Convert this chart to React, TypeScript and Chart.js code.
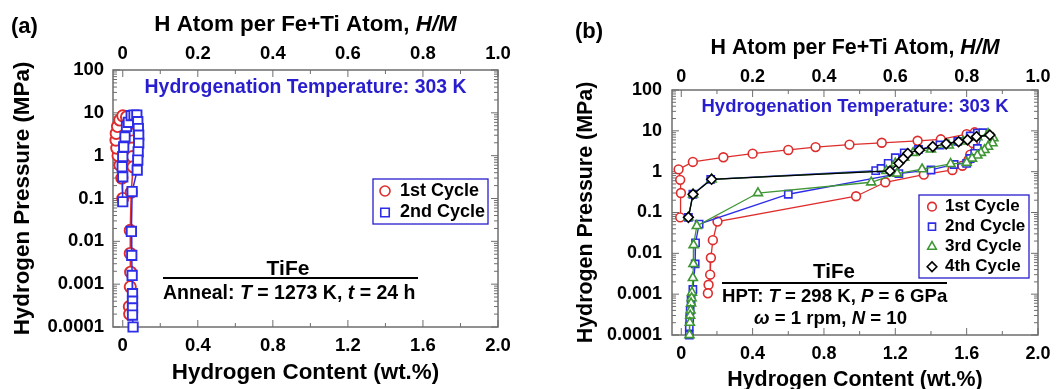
import React, { useEffect, useRef } from "react";
import { Chart, registerables } from "chart.js";
Chart.register(...registerables);

const FAMILY = '"Liberation Sans", Arial, Helvetica, sans-serif';

// ---- shared axis values ----
const pressureTicks = [0.0001, 0.001, 0.01, 0.1, 1, 10, 100];
const wtTicks = [0, 0.4, 0.8, 1.2, 1.6, 2.0];
const hmTicks = [0, 0.2, 0.4, 0.6, 0.8, 1.0];
const seriesNames = ["1st Cycle", "2nd Cycle", "3rd Cycle", "4th Cycle"];

// ---- panel (a): annealed TiFe ----
const a1Wt = [0.0, -0.005, -0.015, -0.025, -0.032, -0.036, -0.035, -0.028, -0.016, 0.0, 0.02, 0.04, 0.05, 0.052, 0.05, 0.052, 0.055, 0.045, 0.04, 0.04, 0.042, 0.04, 0.035, 0.037];
const a1P = [0.1, 0.3, 0.6, 1.0, 1.5, 2.3, 3.3, 4.8, 6.8, 8.5, 8.0, 5.0, 3.2, 2.2, 1.5, 0.95, 0.55, 0.14, 0.018, 0.0052, 0.0019, 0.00087, 0.0003, 0.0002];
const a2Wt = [0.0, 0.0, -0.003, 0.0, 0.005, 0.012, 0.02, 0.03, 0.045, 0.06, 0.075, 0.08, 0.083, 0.085, 0.085, 0.082, 0.08, 0.077, 0.05, 0.046, 0.048, 0.05, 0.052, 0.052, 0.052, 0.052, 0.055];
const a2P = [0.084, 0.32, 0.55, 0.95, 1.6, 2.75, 4.8, 6.0, 8.6, 8.9, 8.9, 6.2, 4.3, 3.0, 1.95, 1.23, 0.79, 0.46, 0.145, 0.017, 0.0047, 0.0016, 0.0006, 0.0004, 0.00028, 0.00019, 0.0001];

// ---- panel (b): HPT-processed TiFe ----
const b1Wt = [-0.006, -0.002, -0.006, -0.015, 0.065, 0.236, 0.4, 0.6, 0.753, 0.943, 1.124, 1.325, 1.455, 1.6, 1.645, 1.635, 1.62, 1.61, 1.576, 1.52, 1.36, 1.144, 0.98, 0.203, 0.177, 0.166, 0.162, 0.153, 0.149];
const b1P = [0.076, 0.3, 0.63, 1.14, 1.73, 2.25, 2.76, 3.4, 4.0, 4.6, 5.1, 5.7, 6.2, 8.3, 9.2, 5.0, 2.6, 1.93, 1.4, 1.1, 0.85, 0.55, 0.25, 0.06, 0.021, 0.0078, 0.003, 0.0017, 0.00105];
const b2Wt = [0.04, 0.065, 0.165, 1.09, 1.12, 1.16, 1.2, 1.25, 1.33, 1.45, 1.55, 1.62, 1.66, 1.69, 1.66, 1.645, 1.62, 1.6, 1.53, 1.4, 1.22, 0.6, 0.1, 0.08, 0.078, 0.065, 0.055, 0.05, 0.047, 0.045, 0.045];
const b2P = [0.076, 0.28, 0.65, 1.06, 1.2, 1.6, 2.2, 2.9, 3.5, 4.5, 5.5, 7.5, 8.8, 9.0, 3.7, 2.8, 2.1, 1.6, 1.5, 1.1, 0.9, 0.28, 0.052, 0.018, 0.0055, 0.0013, 0.0007, 0.0004, 0.00025, 0.00016, 0.0001];
const b3Wt = [0.04, 0.066, 0.17, 1.15, 1.2, 1.25, 1.3, 1.4, 1.5, 1.58, 1.66, 1.72, 1.75, 1.745, 1.72, 1.7, 1.68, 1.66, 1.63, 1.6, 1.51, 1.35, 1.21, 1.065, 0.43, 0.087, 0.069, 0.068, 0.065, 0.06, 0.058, 0.055, 0.052, 0.05, 0.048, 0.046];
const b3P = [0.076, 0.28, 0.65, 1.05, 1.6, 2.2, 2.9, 3.5, 4.4, 5.5, 7.0, 8.5, 6.6, 5.0, 4.1, 3.4, 2.9, 2.5, 2.1, 1.65, 1.55, 1.15, 0.9, 0.55, 0.3, 0.047, 0.016, 0.0055, 0.0025, 0.0011, 0.0008, 0.0006, 0.0004, 0.0003, 0.0002, 0.0001];
const b4Wt = [0.04, 0.066, 0.17, 1.17, 1.22, 1.245, 1.27, 1.335, 1.41, 1.485, 1.555, 1.605, 1.655, 1.73];
const b4P = [0.076, 0.28, 0.65, 1.04, 1.6, 2.1, 2.8, 3.4, 4.1, 4.8, 5.4, 6.0, 7.2, 7.9];

// ---- styles ----
const COLORS = ["rgb(222,45,45)", "rgb(45,45,232)", "rgb(62,150,52)", "#000000"];
const STYLES = ["circle", "rect", "triangle", "rectRot"];
const TEXT_BLUE = "rgb(40,30,205)";
const FRAME = "#6e6e6e";

type Seg = { t: string; i?: boolean };

function drawRich(ctx: CanvasRenderingContext2D, segs: Seg[], x: number, y: number, size: number, align: string, color: string) {
  const fN = `bold ${size}px ${FAMILY}`;
  const fI = `italic bold ${size}px ${FAMILY}`;
  let total = 0;
  for (const s of segs) {
    ctx.font = s.i ? fI : fN;
    total += ctx.measureText(s.t).width;
  }
  let cx = align === "center" ? x - total / 2 : x;
  ctx.textBaseline = "middle";
  ctx.textAlign = "left";
  ctx.fillStyle = color;
  for (const s of segs) {
    ctx.font = s.i ? fI : fN;
    ctx.fillText(s.t, cx, y);
    cx += ctx.measureText(s.t).width;
  }
}

function drawMarker(ctx: CanvasRenderingContext2D, style: string, x: number, y: number, r: number, color: string, bw: number) {
  ctx.beginPath();
  if (style === "circle") ctx.arc(x, y, r, 0, Math.PI * 2);
  else if (style === "rect") {
    const s = r * Math.SQRT1_2;
    ctx.rect(x - s, y - s, 2 * s, 2 * s);
  } else if (style === "triangle") {
    ctx.moveTo(x, y - r);
    ctx.lineTo(x + r * Math.sin((2 * Math.PI) / 3), y - r * Math.cos((2 * Math.PI) / 3));
    ctx.lineTo(x + r * Math.sin((4 * Math.PI) / 3), y - r * Math.cos((4 * Math.PI) / 3));
    ctx.closePath();
  } else {
    ctx.moveTo(x, y - r);
    ctx.lineTo(x + r, y);
    ctx.lineTo(x, y + r);
    ctx.lineTo(x - r, y);
    ctx.closePath();
  }
  ctx.fillStyle = "#fff";
  ctx.fill();
  ctx.lineWidth = bw;
  ctx.strokeStyle = color;
  ctx.stroke();
}

type PanelCfg = {
  width: number;
  yW: number;
  padR: number;
  topH: number;
  botH: number;
  tick: number;
  title: number;
  yTickPad: number;
  botTickPad: number;
  topTickPad: number;
  botTitlePad: number;
  yTitlePad: number;
  series: { wt: number[]; p: number[] }[];
  radii: number[];
  lineW: number;
  markW: number;
  panelLabel: string;
  panelLabelPos: [number, number];
  topTitleY: number;
  tempY: number;
  tempSize: number;
  legend: { x0: number; y0: number; x1: number; y1: number; mx: number; tx: number; rows: number[]; size: number; r: number[] };
  tife: { cx: number; cy: number; size: number; lx0: number; lx1: number; ly: number };
  notes: { segs: Seg[]; x: number; y: number; size: number }[];
};

function fmt(v: number) {
  return v === 0 ? "0" : Number(v).toFixed(1);
}

function buildConfig(cfg: PanelCfg): any {
  const tickFont = { family: FAMILY, size: cfg.tick, weight: "bold" as const };
  const titleFont = { family: FAMILY, size: cfg.title, weight: "bold" as const, lineHeight: 1 };
  const datasets = cfg.series.map((s, i) => ({
    label: seriesNames[i],
    data: s.wt.map((x, k) => ({ x, y: s.p[k] })),
    showLine: true,
    tension: 0,
    borderColor: COLORS[i],
    borderWidth: cfg.lineW,
    pointStyle: STYLES[i],
    pointRadius: cfg.radii[i],
    pointBorderWidth: cfg.markW,
    pointBackgroundColor: "#ffffff",
    pointBorderColor: COLORS[i],
    order: 4 - i,
    clip: false,
  }));

  const decorPlugin = {
    id: "decor",
    beforeDatasetsDraw(chart: any) {
      const ctx: CanvasRenderingContext2D = chart.ctx;
      const { left, right, top, bottom } = chart.chartArea;
      const ys = chart.scales.y;
      const xs = chart.scales.x;
      const x2 = chart.scales.x2;
      ctx.save();
      ctx.strokeStyle = FRAME;
      ctx.lineWidth = 1;
      ctx.beginPath();
      for (let d = -4; d <= 2; d++) {
        const py = ys.getPixelForValue(Math.pow(10, d));
        ctx.moveTo(left, py); ctx.lineTo(left + 7, py);
        ctx.moveTo(right, py); ctx.lineTo(right - 7, py);
        if (d < 2) {
          for (let k = 2; k <= 9; k++) {
            const pm = ys.getPixelForValue(k * Math.pow(10, d));
            ctx.moveTo(left, pm); ctx.lineTo(left + 4, pm);
            ctx.moveTo(right, pm); ctx.lineTo(right - 4, pm);
          }
        }
      }
      for (let k = 0; k <= 10; k++) {
        const px = xs.getPixelForValue(k * 0.2);
        const len = k % 2 === 0 ? 7 : 4;
        ctx.moveTo(px, bottom); ctx.lineTo(px, bottom - len);
        const pt = x2.getPixelForValue(k * 0.1);
        ctx.moveTo(pt, top); ctx.lineTo(pt, top + len);
      }
      ctx.stroke();
      ctx.lineWidth = 1.5;
      ctx.strokeRect(left, top, right - left, bottom - top);
      ctx.restore();
    },
    afterDraw(chart: any) {
      const ctx: CanvasRenderingContext2D = chart.ctx;
      const { left, right } = chart.chartArea;
      const cx = (left + right) / 2;
      ctx.save();
      drawRich(ctx, [{ t: cfg.panelLabel }], cfg.panelLabelPos[0], cfg.panelLabelPos[1], 22, "left", "#000");
      drawRich(ctx, [{ t: "H Atom per Fe+Ti Atom, " }, { t: "H/M", i: true }], cx, cfg.topTitleY, cfg.title, "center", "#000");
      drawRich(ctx, [{ t: "Hydrogenation Temperature: 303 K" }], cx, cfg.tempY, cfg.tempSize, "center", TEXT_BLUE);
      // legend
      const L = cfg.legend;
      ctx.fillStyle = "#fff";
      ctx.fillRect(L.x0, L.y0, L.x1 - L.x0, L.y1 - L.y0);
      ctx.strokeStyle = TEXT_BLUE;
      ctx.lineWidth = 1.3;
      ctx.strokeRect(L.x0, L.y0, L.x1 - L.x0, L.y1 - L.y0);
      L.rows.forEach((ry, i) => {
        drawMarker(ctx, STYLES[i], L.mx, ry, L.r[i], COLORS[i], 1.6);
        drawRich(ctx, [{ t: seriesNames[i] }], L.tx, ry, L.size, "left", "#000");
      });
      // TiFe block
      const T = cfg.tife;
      drawRich(ctx, [{ t: "TiFe" }], T.cx, T.cy, T.size, "center", "#000");
      ctx.strokeStyle = "#000";
      ctx.lineWidth = 2;
      ctx.beginPath();
      ctx.moveTo(T.lx0, T.ly);
      ctx.lineTo(T.lx1, T.ly);
      ctx.stroke();
      cfg.notes.forEach((n) => drawRich(ctx, n.segs, n.x, n.y, n.size, "left", "#000"));
      ctx.restore();
    },
  };

  return {
    type: "scatter",
    data: { datasets },
    plugins: [decorPlugin],
    options: {
      responsive: false,
      animation: false,
      devicePixelRatio: 1,
      layout: { padding: { left: 0, right: cfg.padR, top: 0, bottom: 0 }, autoPadding: false },
      plugins: { legend: { display: false }, tooltip: { enabled: false } },
      scales: {
        x: {
          type: "linear",
          position: "bottom",
          min: -0.052,
          max: 2.0,
          afterBuildTicks: (s: any) => { s.ticks = wtTicks.map((v) => ({ value: v })); },
          afterFit: (s: any) => { s.height = cfg.botH; s.paddingLeft = 0; s.paddingRight = 0; },
          ticks: { callback: (v: any) => fmt(v), font: tickFont, color: "#000", padding: cfg.botTickPad, maxRotation: 0, autoSkip: false },
          grid: { display: false, drawTicks: false },
          border: { display: false },
          title: { display: true, text: "Hydrogen Content (wt.%)", font: titleFont, color: "#000", padding: { top: 0, bottom: cfg.botTitlePad } },
        },
        x2: {
          type: "linear",
          position: "top",
          min: -0.026,
          max: 1.0,
          afterBuildTicks: (s: any) => { s.ticks = hmTicks.map((v) => ({ value: v })); },
          afterFit: (s: any) => { s.height = cfg.topH; s.paddingLeft = 0; s.paddingRight = 0; },
          ticks: { callback: (v: any) => fmt(v), font: tickFont, color: "#000", padding: cfg.topTickPad, maxRotation: 0, autoSkip: false },
          grid: { display: false, drawTicks: false },
          border: { display: false },
        },
        y: {
          type: "logarithmic",
          position: "left",
          min: 0.0001,
          max: 100,
          afterBuildTicks: (s: any) => { s.ticks = pressureTicks.map((v) => ({ value: v })); },
          afterFit: (s: any) => { s.width = cfg.yW; s.paddingTop = 0; s.paddingBottom = 0; },
          ticks: { callback: (v: any) => String(v), font: tickFont, color: "#000", padding: cfg.yTickPad, autoSkip: false },
          grid: { display: false, drawTicks: false },
          border: { display: false },
          title: { display: true, text: "Hydrogen Pressure (MPa)", font: titleFont, color: "#000", padding: { top: cfg.yTitlePad, bottom: 0 } },
        },
      },
    },
  };
}

const panelA: PanelCfg = {
  width: 511, yW: 113, padR: 13, topH: 70, botH: 62,
  tick: 18.5, title: 22.4,
  yTickPad: 9, botTickPad: 8, topTickPad: 5, botTitlePad: 5, yTitlePad: 12,
  series: [{ wt: a1Wt, p: a1P }, { wt: a2Wt, p: a2P }],
  radii: [5.6, 6.6],
  lineW: 1.5,
  markW: 1.9,
  panelLabel: "(a)", panelLabelPos: [11, 27],
  topTitleY: 25, tempY: 88, tempSize: 19.4,
  legend: { x0: 373, y0: 179, x1: 488, y1: 224, mx: 385, tx: 400, rows: [191, 212.5], size: 18, r: [5, 6] },
  tife: { cx: 288, cy: 269, size: 21, lx0: 163, lx1: 418, ly: 278 },
  notes: [
    { segs: [{ t: "Anneal: " }, { t: "T", i: true }, { t: " = 1273 K, " }, { t: "t", i: true }, { t: " = 24 h" }], x: 163, y: 294, size: 19.5 },
  ],
};

const panelB: PanelCfg = {
  width: 529, yW: 142, padR: 21, topH: 90, botH: 54,
  tick: 18, title: 21.4,
  yTickPad: 10, botTickPad: 8, topTickPad: 2, botTitlePad: -2, yTitlePad: 45,
  series: [{ wt: b1Wt, p: b1P }, { wt: b2Wt, p: b2P }, { wt: b3Wt, p: b3P }, { wt: b4Wt, p: b4P }],
  radii: [4.4, 5.1, 5.2, 4.9],
  lineW: 1.3,
  markW: 1.6,
  panelLabel: "(b)", panelLabelPos: [45, 32],
  topTitleY: 48, tempY: 107, tempSize: 18.5,
  legend: { x0: 389, y0: 195, x1: 499, y1: 278, mx: 402, tx: 415, rows: [206.7, 226.7, 246.7, 266.7], size: 17, r: [4.3, 5, 5, 4.8] },
  tife: { cx: 304, cy: 272, size: 20.5, lx0: 192, lx1: 417, ly: 283 },
  notes: [
    { segs: [{ t: "HPT: " }, { t: "T", i: true }, { t: " = 298 K, " }, { t: "P", i: true }, { t: " = 6 GPa" }], x: 192, y: 297, size: 18.6 },
    { segs: [{ t: "ω", i: true }, { t: " = 1 rpm, " }, { t: "N", i: true }, { t: " = 10" }], x: 224, y: 319, size: 18.6 },
  ],
};

function Panel({ cfg, left }: { cfg: PanelCfg; left: number }) {
  const ref = useRef<HTMLCanvasElement>(null);
  useEffect(() => {
    const chart = new Chart(ref.current as HTMLCanvasElement, buildConfig(cfg));
    return () => chart.destroy();
  }, [cfg]);
  return (
    <div style={{ position: "absolute", left, top: 0, width: cfg.width, height: 389 }}>
      <canvas ref={ref} width={cfg.width} height={389} style={{ width: cfg.width, height: 389, display: "block" }} />
    </div>
  );
}

export default function App() {
  return (
    <div style={{ position: "absolute", left: 0, top: 0, width: 1059, height: 389, background: "#fff", overflow: "hidden" }}>
      <Panel cfg={panelA} left={0} />
      <Panel cfg={panelB} left={530} />
    </div>
  );
}
